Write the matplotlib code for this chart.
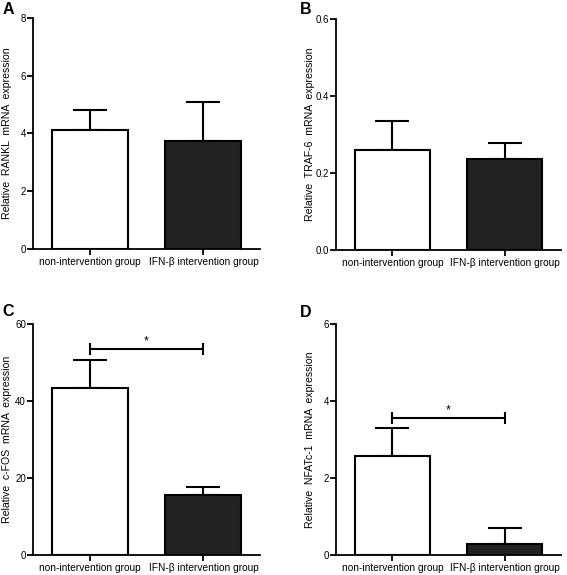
import numpy as np
import matplotlib.pyplot as plt
import matplotlib

matplotlib.rcParams.update({'font.family': 'Liberation Sans', 'font.size': 7.3})

groups = ['non-intervention group', 'IFN-\u03b2 intervention group']

rankl_mean = [4.13, 3.75]
rankl_err = [0.68, 1.32]
traf6_mean = [0.26, 0.236]
traf6_err = [0.075, 0.042]
cfos_mean = [43.4, 15.6]
cfos_err = [7.3, 2.1]
nfatc1_mean = [2.57, 0.29]
nfatc1_err = [0.72, 0.41]

panels = [
    ('A', 'RANKL', rankl_mean, rankl_err, 8, [0, 2, 4, 6, 8], None),
    ('B', 'TRAF-6', traf6_mean, traf6_err, 0.6, [0.0, 0.2, 0.4, 0.6], None),
    ('C', 'c-FOS', cfos_mean, cfos_err, 60, [0, 20, 40, 60], 53.5),
    ('D', 'NFATc-1', nfatc1_mean, nfatc1_err, 6, [0, 2, 4, 6], 3.56),
]
boxes = [
    [0.058, 0.567, 0.401, 0.402],
    [0.593, 0.565, 0.396, 0.402],
    [0.058, 0.035, 0.401, 0.402],
    [0.593, 0.035, 0.396, 0.402],
]
letter_pos = [(0.004, 0.997), (0.528, 0.997), (0.004, 0.472), (0.528, 0.469)]

fig = plt.figure(figsize=(5.67, 5.75), dpi=100)

for (letter, gene, mean, err, ymax, ticks, sig), box, lp in zip(panels, boxes, letter_pos):
    ax = fig.add_axes(box)
    x = np.arange(len(groups))
    ax.bar(x, mean, width=0.67, color=['white', '#222222'], edgecolor='black',
           linewidth=1.5, zorder=2)
    ax.errorbar(x, mean, yerr=[[0, 0], err], fmt='none', ecolor='black',
                elinewidth=1.5, capsize=12, capthick=1.5, zorder=1)
    ax.set_xlim(-0.5, 1.5)
    ax.set_ylim(0, ymax)
    ax.set_yticks(ticks)
    ax.set_yticklabels([f'{t:g}' if ymax > 1 else f'{t:.1f}' for t in ticks])
    ax.set_xticks(x)
    ax.set_xticklabels(groups)
    ax.set_ylabel(f'Relative  {gene}  mRNA  expression', fontsize=7.6)
    ax.yaxis.set_label_coords(-0.093, 0.5)
    ax.spines['top'].set_visible(False)
    ax.spines['right'].set_visible(False)
    ax.spines['left'].set_linewidth(1.3)
    ax.spines['bottom'].set_linewidth(1.3)
    ax.tick_params(width=1.3, length=4)
    ax.tick_params(axis='y', labelsize=7, pad=1)
    ax.tick_params(axis='x', pad=2)

    if sig is not None:
        ax.errorbar([0.5], [sig], xerr=[[0.5], [0.5]], fmt='none', ecolor='black',
                    elinewidth=1.5, capsize=4.5, capthick=1.5)
        ax.text(0.5, sig + ymax * 0.005, '*', ha='center', va='bottom', fontsize=9)

    fig.text(lp[0], lp[1], letter, fontsize=11.5, fontweight='bold', va='top')

plt.savefig('out.png')
plt.close()
